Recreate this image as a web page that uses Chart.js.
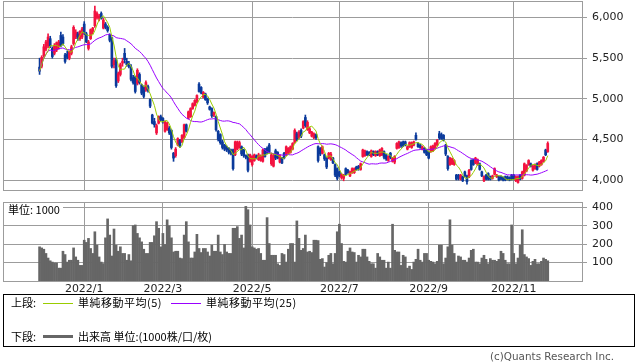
<!DOCTYPE html>
<html><head><meta charset="utf-8">
<script src="https://cdn.jsdelivr.net/npm/chart.js@4.4.0/dist/chart.umd.min.js"></script>
<style>
html,body{margin:0;padding:0;background:#fff;}
body{width:638px;height:362px;position:relative;overflow:hidden;font-family:"DejaVu Sans",sans-serif;}
canvas{position:absolute;left:0;}
#pc{top:0;}
#vc{top:196px;}
.jp{position:absolute;font-family:"Noto Sans CJK JP",sans-serif;font-size:11px;line-height:13px;color:#000;white-space:nowrap;}
.lgbox{position:absolute;left:3px;top:294px;width:632px;height:53px;border:1px solid #000;box-sizing:border-box;}
.ln{position:absolute;height:1px;}
#unit{left:4px;top:203px;background:#fff;padding:0 3px 0 4px;}
#copy{position:absolute;right:24px;top:350px;font-size:10.4px;line-height:13px;color:#555;font-family:"DejaVu Sans",sans-serif;}
</style>
</head><body>
<canvas id="pc" width="638" height="196"></canvas>
<canvas id="vc" width="638" height="100"></canvas>
<div class="jp" id="unit">単位: 1000</div>
<div class="lgbox"></div>
<div class="jp" style="left:11px;top:296px;">上段:</div>
<div class="ln" style="left:43px;top:303px;width:30px;background:#99cc00;"></div>
<div class="jp" style="left:78px;top:296px;letter-spacing:0.5px;">単純移動平均(5)</div>
<div class="ln" style="left:171px;top:303px;width:30px;background:#9900ff;"></div>
<div class="jp" style="left:206px;top:296px;letter-spacing:0.5px;">単純移動平均(25)</div>
<div class="jp" style="left:11px;top:330px;">下段:</div>
<div class="ln" style="left:43px;top:335px;width:30px;height:3px;background:#666;"></div>
<div class="jp" style="left:78px;top:330px;">出来高 単位:(1000株/口/枚)</div>
<div id="copy">(c)Quants Research Inc.</div>
<script>
// ---- data ----
const monthTickIdx = [21, 58, 100, 141, 183, 223];
const monthTickLabels = ['2022/1', '2022/3', '2022/5', '2022/7', '2022/9', '2022/11'];
const priceTicks = [4000, 4500, 5000, 5500, 6000];
const volumeTicks = [100, 200, 300, 400];

const opens = [5390,5400,5530,5610,5650,5740,5620,5560,5600,5640,5780,5760,5540,5550,5500,5560,5680,5760,5800,5740,
5760,5920,5800,5620,5740,5830,5900,6000,5990,6050,5870,5920,5880,5790,5750,5420,5480,5220,5300,5440,
5560,5460,5430,5390,5260,5270,5190,5300,5170,5140,5110,5150,4990,4800,4720,4580,4700,4780,4760,4600,
4620,4640,4610,4330,4300,4430,4490,4470,4520,4680,4760,4780,4880,4920,4960,5180,5140,5020,5060,5000,
4900,4880,4800,4780,4600,4560,4470,4430,4400,4390,4370,4370,4310,4380,4400,4410,4370,4300,4310,4230,
4190,4240,4300,4250,4240,4230,4370,4390,4430,4200,4170,4360,4340,4220,4270,4330,4310,4330,4340,4380,
4460,4570,4520,4610,4640,4770,4620,4580,4540,4520,4560,4410,4390,4330,4310,4270,4270,4250,4270,4190,
4140,4100,4030,4020,4140,4120,4050,4090,4090,4160,4170,4130,4290,4300,4350,4340,4290,4350,4300,4350,
4300,4310,4350,4310,4240,4330,4230,4220,4390,4400,4460,4470,4470,4380,4410,4400,4430,4550,4450,4430,
4380,4390,4370,4340,4350,4360,4390,4430,4570,4560,4550,4430,4290,4190,4200,4190,4060,4060,4010,4040,
4100,4050,4040,4240,4250,4210,4190,4200,4100,3990,4060,4080,4040,4020,4070,4040,4040,4040,4030,4040,
4040,4030,4060,4060,3990,3970,4060,4020,4060,4110,4190,4200,4120,4140,4200,4170,4190,4230,4370,4350];
const highs = [5500,5530,5670,5720,5800,5770,5640,5680,5700,5720,5820,5790,5560,5590,5590,5660,5900,5850,5820,5840,
5880,5950,5820,5720,5860,5880,6140,6070,6040,6070,5990,5940,5900,5800,5760,5500,5500,5330,5440,5500,
5620,5500,5460,5420,5290,5280,5370,5320,5180,5160,5220,5170,5000,4810,4760,4690,4790,4800,4770,4730,
4710,4660,4620,4340,4400,4520,4500,4560,4690,4690,4850,4890,4950,4990,5050,5200,5150,5090,5070,5010,
4910,4890,4840,4790,4610,4570,4490,4440,4420,4400,4380,4380,4480,4480,4480,4420,4380,4310,4320,4320,
4300,4320,4310,4330,4310,4380,4390,4410,4450,4330,4320,4380,4350,4310,4280,4340,4420,4400,4420,4460,
4630,4590,4610,4630,4730,4800,4730,4650,4600,4580,4570,4420,4400,4420,4320,4280,4340,4340,4280,4200,
4150,4110,4080,4070,4150,4130,4110,4150,4150,4170,4180,4210,4380,4370,4360,4350,4370,4360,4360,4360,
4380,4400,4360,4320,4300,4340,4280,4300,4460,4480,4470,4480,4480,4420,4470,4470,4480,4580,4460,4440,
4420,4400,4380,4350,4420,4430,4460,4500,4600,4580,4560,4440,4300,4280,4270,4250,4070,4070,4070,4050,
4110,4060,4130,4250,4260,4280,4260,4210,4110,4050,4070,4090,4050,4060,4150,4070,4050,4050,4040,4050,
4050,4040,4070,4070,4050,4050,4070,4110,4210,4190,4250,4210,4180,4200,4210,4230,4250,4290,4380,4470];
const lows = [5300,5380,5510,5590,5630,5630,5500,5540,5580,5610,5640,5660,5440,5490,5480,5540,5660,5740,5720,5720,
5740,5790,5690,5600,5730,5800,5880,5980,5960,5980,5860,5860,5820,5700,5380,5380,5140,5200,5280,5400,
5440,5400,5380,5220,5180,5070,5170,5180,5050,5010,5090,5080,4890,4690,4650,4560,4690,4730,4700,4590,
4610,4560,4380,4230,4280,4420,4400,4460,4510,4590,4750,4770,4870,4910,4950,5080,5060,5010,4980,4930,
4860,4770,4780,4600,4480,4440,4380,4360,4350,4320,4310,4120,4300,4370,4390,4300,4280,4260,4100,4220,
4170,4230,4260,4240,4230,4220,4280,4320,4330,4180,4160,4250,4260,4210,4200,4260,4300,4320,4330,4370,
4450,4480,4510,4520,4630,4650,4610,4570,4530,4510,4500,4220,4300,4320,4240,4140,4260,4240,4200,4040,
4000,4040,4010,3990,4060,4080,4040,4080,4080,4120,4120,4120,4280,4290,4300,4300,4280,4300,4290,4300,
4290,4300,4260,4240,4230,4260,4220,4200,4380,4390,4400,4410,4420,4370,4400,4390,4420,4490,4400,4390,
4370,4330,4300,4260,4340,4350,4380,4420,4500,4500,4480,4300,4120,4180,4190,4180,4000,4000,4000,3980,
4040,3950,4030,4120,4180,4200,4180,4120,4040,3980,4000,4000,4000,4010,4060,4030,3990,4000,3990,3990,
4000,3990,4000,4000,3980,3960,4000,4010,4050,4100,4180,4160,4110,4130,4120,4160,4180,4220,4300,4340];
const closes = [5340,5510,5640,5700,5760,5650,5520,5660,5690,5700,5660,5680,5460,5510,5580,5640,5880,5820,5740,5830,
5860,5810,5700,5700,5850,5870,6080,6050,6020,5990,5970,5880,5840,5720,5400,5470,5160,5310,5420,5460,
5480,5420,5400,5240,5200,5090,5350,5200,5070,5030,5200,5100,4910,4700,4680,4670,4780,4740,4720,4720,
4700,4580,4400,4270,4380,4510,4420,4550,4680,4600,4840,4880,4940,4980,5040,5090,5070,5080,4990,4950,
4870,4790,4830,4620,4500,4460,4400,4380,4370,4340,4330,4140,4470,4470,4460,4320,4300,4280,4120,4310,
4290,4310,4270,4310,4290,4370,4290,4340,4350,4310,4300,4270,4270,4300,4210,4270,4410,4390,4410,4450,
4610,4500,4590,4540,4720,4670,4710,4630,4590,4570,4520,4240,4320,4410,4260,4160,4330,4320,4210,4060,
4020,4050,4070,4060,4070,4090,4100,4140,4140,4130,4140,4200,4370,4360,4310,4310,4360,4310,4350,4310,
4370,4390,4280,4260,4290,4280,4270,4290,4450,4470,4420,4420,4430,4410,4460,4460,4470,4500,4410,4400,
4410,4340,4310,4270,4410,4420,4450,4490,4520,4510,4500,4320,4140,4270,4260,4240,4010,4020,4060,3990,
4050,3980,4120,4130,4190,4270,4250,4130,4050,4040,4010,4010,4010,4050,4140,4060,4000,4010,4000,4000,
4010,4000,4010,4010,4040,4040,4010,4100,4200,4180,4240,4170,4170,4190,4130,4220,4240,4280,4310,4450];
const volumes = [186,180,173,150,125,110,103,98,98,70,70,162,144,103,113,113,180,131,113,85,
85,222,210,232,177,150,268,195,131,103,95,235,338,250,136,283,195,162,186,150,
150,113,144,110,301,305,259,235,213,173,150,150,210,210,246,323,287,186,259,199,
333,301,235,158,162,162,125,122,250,323,213,125,125,158,254,177,155,177,177,158,
136,195,162,162,250,158,144,199,158,150,150,287,287,296,232,250,180,406,388,305,
186,180,173,177,150,113,113,345,204,140,140,140,94,85,150,144,103,173,204,204,
103,327,232,167,177,250,158,162,155,222,222,220,118,122,76,100,140,150,94,150,
268,309,204,107,103,162,180,158,155,103,140,131,173,173,131,107,94,94,70,150,
131,113,113,70,103,70,309,167,158,158,85,140,131,70,81,63,103,118,173,113,
103,150,150,113,107,103,94,107,195,195,94,125,186,333,195,150,103,136,131,113,
113,103,125,167,173,103,103,94,125,140,118,94,122,113,113,107,118,162,150,113,
94,94,305,150,94,125,195,279,144,131,122,85,107,118,94,94,107,125,118,110];

// ---- derived (simple moving averages of the closes) ----
function sma(arr, n) {
  return arr.map((_, i) => {
    const s = Math.max(0, i - n + 1);
    let sum = 0;
    for (let k = s; k <= i; k++) sum += arr[k];
    return sum / (i - s + 1);
  });
}
const ma5 = sma(closes, 5);
const ma25 = sma(closes, 25);

const RED = '#f3123f', BLUE = '#0b3a9b', GRID = '#9c9c9c';
const idx = closes.map((_, i) => i);
const candleColor = idx.map(i => closes[i] >= opens[i] ? RED : BLUE);

const X_MIN = -17.2, X_MAX = 255.1;

const framePlugin = {
  id: 'frame',
  beforeDatasetsDraw(chart) {
    const a = chart.chartArea, ctx = chart.ctx;
    ctx.save();
    ctx.strokeStyle = GRID;
    ctx.lineWidth = 1;
    ctx.strokeRect(Math.round(a.left) + 0.5, Math.round(a.top) + 0.5,
      Math.round(a.right - a.left), Math.round(a.bottom - a.top));
    ctx.restore();
  }
};

const tickFont = { family: 'DejaVu Sans', size: 11 };

function noPad(ax) {
  ax.paddingTop = 0; ax.paddingBottom = 0; ax.paddingLeft = 0; ax.paddingRight = 0;
}

function xScale(showLabels, h) {
  return {
    type: 'linear', min: X_MIN, max: X_MAX, offset: false, position: 'bottom',
    afterBuildTicks: ax => { ax.ticks = monthTickIdx.map(v => ({ value: v })); },
    afterFit: ax => { ax.height = h; noPad(ax); },
    ticks: {
      display: showLabels, autoSkip: false, maxRotation: 0, padding: 2,
      font: tickFont, color: '#222',
      callback: v => monthTickLabels[monthTickIdx.indexOf(v)] || ''
    },
    grid: { color: GRID, lineWidth: 1, drawTicks: false, offset: false },
    border: { display: false }
  };
}
function yScale(min, max, ticksArr, fmt) {
  return {
    position: 'right', min: min, max: max,
    afterBuildTicks: ax => { ax.ticks = ticksArr.map(v => ({ value: v })); },
    afterFit: ax => { ax.width = 56; noPad(ax); },
    ticks: { font: tickFont, color: '#222', padding: 5, callback: fmt },
    grid: { color: GRID, lineWidth: 1, drawTicks: true, tickLength: 5, offset: false },
    border: { display: false }
  };
}

new Chart(document.getElementById('pc'), {
  type: 'bar',
  data: {
    datasets: [
      { type: 'line', data: idx.map(i => ({ x: i, y: ma5[i] })), borderColor: '#99cc00',
        borderWidth: 1, pointRadius: 0, tension: 0, order: 0 },
      { type: 'line', data: idx.map(i => ({ x: i, y: ma25[i] })), borderColor: '#9900ff',
        borderWidth: 1, pointRadius: 0, tension: 0, order: 1 },
      { data: idx.map(i => ({ x: i, y: [opens[i], closes[i]] })), backgroundColor: candleColor,
        barThickness: 2, grouped: false, borderWidth: 0, minBarLength: 1, order: 2 },
      { data: idx.map(i => ({ x: i, y: [lows[i], highs[i]] })), backgroundColor: candleColor,
        barThickness: 1, grouped: false, borderWidth: 0, order: 3 }
    ]
  },
  options: {
    responsive: false, animation: false, devicePixelRatio: 1,
    layout: { padding: { left: 3, top: 1, right: 0, bottom: 0 } },
    plugins: { legend: { display: false }, tooltip: { enabled: false } },
    scales: {
      x: xScale(false, 6),
      y: yScale(3877, 6204, priceTicks, v => v.toLocaleString('en-US'))
    }
  },
  plugins: [framePlugin]
});

new Chart(document.getElementById('vc'), {
  type: 'bar',
  data: {
    datasets: [
      { data: idx.map(i => ({ x: i, y: volumes[i] })), backgroundColor: '#666666',
        barThickness: 2, grouped: false, borderWidth: 0 }
    ]
  },
  options: {
    responsive: false, animation: false, devicePixelRatio: 1,
    layout: { padding: { left: 3, top: 6, right: 0, bottom: 0 } },
    plugins: { legend: { display: false }, tooltip: { enabled: false } },
    scales: {
      x: xScale(true, 15),
      y: yScale(0, 430, volumeTicks, v => String(v))
    }
  },
  plugins: [framePlugin]
});
</script>
</body></html>
